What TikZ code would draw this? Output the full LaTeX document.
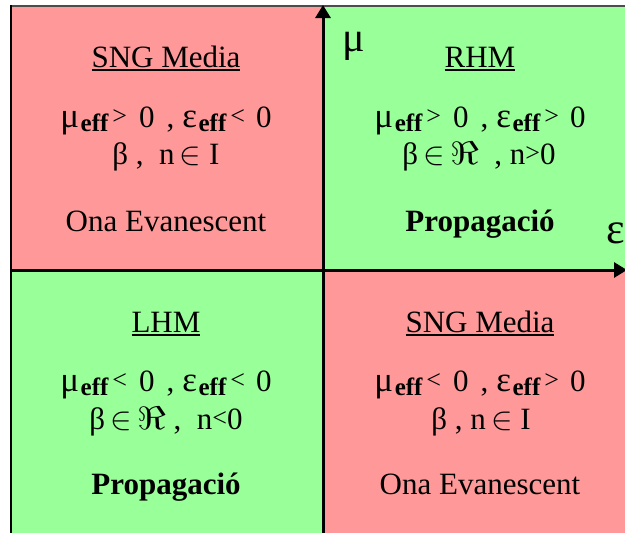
\documentclass[tikz,border=0pt]{standalone}
\usepackage{graphicx}
\usepackage{fontspec}
\setmainfont{Liberation Serif}
\usetikzlibrary{arrows.meta}

\definecolor{sngred}{HTML}{FF9999}
\definecolor{prgreen}{HTML}{99FF99}

% bold "eff" index, small comparison signs, symbols, underlined titles
\newcommand\effsub{\hspace{1.5pt}\raisebox{-4pt}{\fontsize{25}{25}\selectfont\bfseries eff}}
\newcommand\cmpsym[1]{\raisebox{3pt}{\fontsize{26}{26}\selectfont #1}}
\newcommand\bigsym[1]{{\fontsize{35}{35}\selectfont #1}}
\newcommand\elemsym{\scalebox{1.3}{\fontsize{24}{24}\selectfont$\in$}}
\newcommand\realsym{\scalebox{1.6}[1.3]{\fontsize{24}{24}\selectfont$\Re$}}
\newcommand\ulin[1]{\setbox0\hbox{#1}\rlap{\rule[-3.5pt]{\wd0}{1.6pt}}\box0}
% the line  mu_eff ? 0 , eps_eff ? 0
\newcommand\effline[2]{\bigsym{μ}\effsub\hspace{4pt}\cmpsym{#1}\hspace{12pt}0\hspace{12pt},\hspace{8pt}\bigsym{ε}\effsub\hspace{4pt}\cmpsym{#2}\hspace{11pt}0}

\begin{document}
\begin{tikzpicture}[x=1pt,y=-1pt,
  txt/.style={anchor=base,inner sep=0pt,font=\fontsize{31}{37}\selectfont},
  btxt/.style={txt,font=\fontsize{31}{37}\selectfont\bfseries},
  axis/.style={line width=3pt,-{Triangle[width=15pt,length=13pt]}}]
\useasboundingbox (0,0) rectangle (625,533);
\fill[white] (0,0) rectangle (625,533);

% the four quadrants
\fill[sngred]  (11,6)   rectangle (323,270);
\fill[prgreen] (323,6)  rectangle (625,270);
\fill[prgreen] (11,270) rectangle (323,533);
\fill[sngred]  (323,270) rectangle (625,533);

% frame on top and left
\draw[black!70,line width=2pt] (10,6) -- (625,6);
\draw[black,line width=2.4pt] (11,5) -- (11,533);

% axes
\coordinate (south) at (323,533);
\coordinate (mutip) at (323,5);
\coordinate (west) at (11,270);
\coordinate (epstip) at (627,270);
\draw[axis] (south) -- (mutip);
\draw[axis] (west) -- (epstip);
\node[txt,font=\fontsize{42}{42}\selectfont] (mulabel) at (354,51) {μ};
\node[txt,anchor=base east,font=\fontsize{44}{44}\selectfont] (epslabel) at (625,243) {ε};

% top left: SNG media
\node[txt] (tltitle) at (166,67) {\ulin{SNG Media}};
\node[txt] (tlone) at (166,127) {\effline{>}{<}};
\node[txt] (tltwo) at (166,164) {β ,\ \ n\,\elemsym\ I};
\node[txt] (tlthree) at (166,231) {Ona Evanescent};

% top right: RHM
\node[txt] (trtitle) at (480,67) {\ulin{RHM}};
\node[txt] (trone) at (480,127) {\effline{>}{>}};
\node[txt] (trtwo) at (479,164) {β\,\elemsym\,\realsym\ \ , n\cmpsym{>}0};
\node[btxt] (trthree) at (480,231) {Propagació};

% bottom left: LHM
\node[txt] (bltitle) at (166,332) {\ulin{LHM}};
\node[txt] (blone) at (166,391) {\effline{<}{<}};
\node[txt] (bltwo) at (166,429) {β\,\elemsym\,\realsym\ ,\ \ n\cmpsym{<}0};
\node[btxt] (blthree) at (166,494) {Propagació};

% bottom right: SNG media
\node[txt] (brtitle) at (480,332) {\ulin{SNG Media}};
\node[txt] (brone) at (480,391) {\effline{<}{>}};
\node[txt] (brtwo) at (481,429) {β , n\,\elemsym\ I};
\node[txt] (brthree) at (480,494) {Ona Evanescent};
\end{tikzpicture}
\end{document}
